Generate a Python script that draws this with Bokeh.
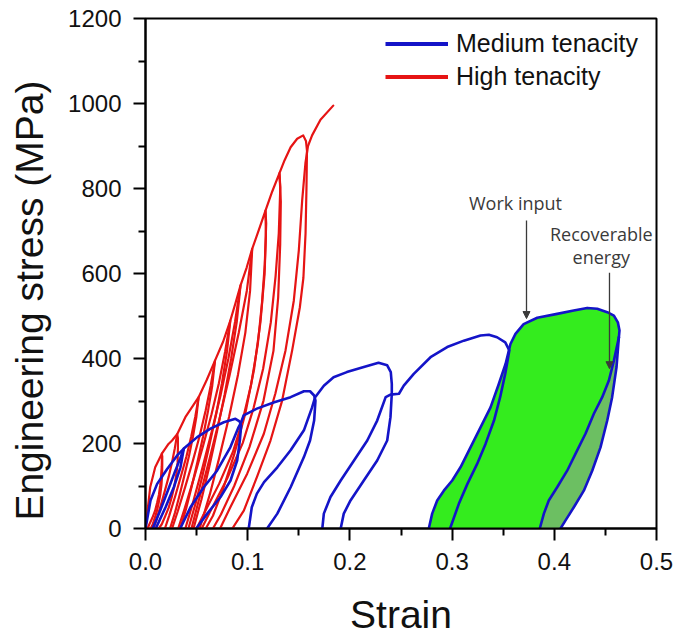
from bokeh.plotting import figure
from bokeh.models import (Range1d, FixedTicker, Legend, LegendItem, Arrow,
                          NormalHead, Label, NumeralTickFormatter)
from bokeh.embed import file_html
from bokeh.resources import INLINE

# ---------------- data ----------------
x_ticks = [0.0, 0.1, 0.2, 0.3, 0.4, 0.5]
x_minor = [0.05, 0.15, 0.25, 0.35, 0.45]
y_ticks = [0, 200, 400, 600, 800, 1000, 1200]
y_minor = [100, 300, 500, 700, 900, 1100]

# High tenacity (red): reload -> envelope -> unload, one list pair per cycle
red_c1_x = [0, 0.0013, 0.0046, 0.0095, 0.016, 0.0164, 0.0164, 0.0162, 0.0156, 0.0144, 0.0127, 0.0109, 0.0089, 0.0068, 0.005]
red_c1_y = [0, 27, 97, 144, 176, 169, 150, 123, 102, 79, 58, 39, 23, 8, 0]
red_c2_x = [0.002, 0.0037, 0.0066, 0.0094, 0.0113, 0.0131, 0.0144, 0.0153, 0.0159, 0.0161, 0.016, 0.0225, 0.026, 0.031, 0.0317, 0.0317, 0.0314, 0.0303, 0.0283, 0.0256, 0.0227, 0.0193, 0.0159, 0.013]
red_c2_y = [0, 9.5, 24.6, 42, 60, 79, 102, 125, 146, 169, 176, 199, 207, 222, 213, 189, 155, 129, 100, 73, 49, 29, 10, 0]
red_c3_x = [0.008, 0.011, 0.0151, 0.019, 0.0227, 0.0259, 0.0287, 0.031, 0.039, 0.052, 0.0498, 0.0464, 0.0425, 0.038, 0.0332, 0.0288, 0.024]
red_c3_y = [0, 22, 56, 89, 122, 155, 189, 222, 262, 309, 263, 216, 170, 124, 77, 37, 0]
red_c4_x = [0.019, 0.0233, 0.0292, 0.0348, 0.0401, 0.0447, 0.0487, 0.052, 0.060, 0.068, 0.0653, 0.0612, 0.0564, 0.051, 0.0452, 0.0398, 0.034]
red_c4_y = [0, 31, 77, 124, 170, 216, 263, 309, 350, 395, 336, 277, 217, 158, 99, 47, 0]
red_c5_x = [0.026, 0.0315, 0.039, 0.0462, 0.0529, 0.0588, 0.0638, 0.068, 0.076, 0.083, 0.0797, 0.0748, 0.0691, 0.0625, 0.0555, 0.049, 0.042]
red_c5_y = [0, 40, 99, 158, 217, 277, 336, 395, 440, 489, 416, 342, 269, 196, 122, 59, 0]
red_c6_x = [0.032, 0.0386, 0.0478, 0.0565, 0.0646, 0.0718, 0.0779, 0.083, 0.088, 0.093, 0.0893, 0.0838, 0.0774, 0.070, 0.0622, 0.0548, 0.047]
red_c6_y = [0, 49, 122, 196, 269, 342, 416, 489, 530, 572, 486, 400, 315, 229, 143, 69, 0]
red_c7_x = [0.039, 0.046, 0.0557, 0.0649, 0.0736, 0.0811, 0.0876, 0.093, 0.099, 0.1044, 0.1023, 0.0977, 0.0905, 0.0818, 0.0720, 0.0628, 0.053]
red_c7_y = [0, 57, 143, 229, 315, 400, 486, 572, 614, 658, 559, 461, 362, 263, 165, 79, 0]
red_c8_x = [0.045, 0.0521, 0.0628, 0.0729, 0.0824, 0.0913, 0.0991, 0.1044, 0.111, 0.1174, 0.1178, 0.1165, 0.1125, 0.1062, 0.0975, 0.0865, 0.0755, 0.066, 0.059]
red_c8_y = [0, 66, 165, 263, 362, 461, 559, 658, 703, 748, 688, 598, 486, 374, 269, 172, 90, 30, 0]
red_c9_x = [0.050, 0.0583, 0.072, 0.0855, 0.095, 0.1032, 0.1099, 0.114, 0.1167, 0.1181, 0.1174, 0.124, 0.1311, 0.1324, 0.1318, 0.1298, 0.1252, 0.1155, 0.1018, 0.0868, 0.0738, 0.066]
red_c9_y = [0, 40, 105, 180, 254, 337, 434, 531, 621, 718, 748, 793, 836, 769, 669, 543, 418, 301, 192, 100, 33, 0]
red_c10_x = [0.055, 0.0644, 0.0798, 0.0951, 0.1058, 0.1151, 0.1226, 0.1273, 0.1304, 0.1319, 0.1311, 0.136, 0.142, 0.1484, 0.1543, 0.157, 0.158, 0.1575, 0.1566, 0.1545, 0.151, 0.1435, 0.1337, 0.1223, 0.109, 0.0962, 0.085]
red_c10_y = [0, 45, 117, 201, 284, 376, 485, 594, 694, 803, 836, 866, 897, 917, 925, 912, 889, 800, 694, 590, 520, 419, 301, 207, 121, 42, 0]
red_c11_x = [0.073, 0.083, 0.0995, 0.1158, 0.127, 0.137, 0.1451, 0.150, 0.1533, 0.1565, 0.159, 0.163, 0.1712, 0.1837]
red_c11_y = [0, 50, 129, 223, 317, 419, 536, 654, 772, 860, 900, 925, 962, 995]

# Medium tenacity (blue): load / unload cycles
blue_c1_x = [0, 0.0049, 0.0114, 0.0212, 0.031, 0.0375, 0.0342, 0.0277, 0.0196, 0.0114, 0.010]
blue_c1_y = [0, 66, 105, 140, 172, 188, 144, 97, 50, 7, 0]
blue_c2_x = [0.007, 0.014, 0.022, 0.029, 0.034, 0.0375, 0.0506, 0.0636, 0.0766, 0.088, 0.092, 0.0936, 0.0923, 0.0897, 0.0832, 0.0734, 0.0604, 0.0506, 0.050]
blue_c2_y = [0, 40, 90, 135, 165, 188, 215, 235, 250, 258, 252, 242, 207, 160, 113, 74, 35, 3, 0]
blue_c3_x = [0.034, 0.044, 0.057, 0.070, 0.083, 0.091, 0.0936, 0.096, 0.109, 0.126, 0.142, 0.155, 0.161, 0.165, 0.1663, 0.165, 0.161, 0.155, 0.142, 0.129, 0.119]
blue_c3_y = [0, 50, 97, 136, 191, 238, 250, 266, 282, 297, 309, 323, 323, 313, 301, 254, 207, 168, 97, 35, 0]
blue_c4_x = [0.101, 0.104, 0.109, 0.116, 0.129, 0.142, 0.155, 0.163, 0.166, 0.1745, 0.184, 0.197, 0.2136, 0.228, 0.2365, 0.240, 0.241, 0.241, 0.2397, 0.2365, 0.2267, 0.2136, 0.2006, 0.194, 0.191]
blue_c4_y = [0, 50, 82, 109, 144, 184, 231, 285, 309, 336, 356, 368, 380, 390, 384, 368, 340, 317, 262, 207, 160, 113, 66, 35, 0]
blue_c5_x = [0.173, 0.1745, 0.181, 0.191, 0.204, 0.217, 0.2267, 0.235, 0.2397, 0.248, 0.2527, 0.2625, 0.2789, 0.2952, 0.3115, 0.3278, 0.336, 0.344, 0.352, 0.356, 0.352, 0.347, 0.341, 0.3327, 0.3245, 0.315, 0.3066, 0.298]
blue_c5_y = [0, 35, 74, 113, 160, 207, 254, 309, 315, 317, 336, 364, 403, 427, 442, 454, 456, 450, 438, 419, 364, 309, 254, 199, 152, 105, 58, 0]
blue_c6_load_x = [0.2772, 0.2805, 0.2854, 0.2919, 0.3001, 0.3082, 0.318, 0.3278, 0.3376, 0.3457, 0.3523, 0.3571, 0.362, 0.370, 0.3833, 0.4028, 0.419, 0.4322, 0.442, 0.4518, 0.4583, 0.4622, 0.4638, 0.4632]
blue_c6_load_y = [0, 35, 66, 89, 113, 144, 191, 238, 285, 340, 387, 434, 458, 481, 496, 505, 513, 519, 517, 509, 501, 485, 466, 450]
blue_c6_unload_a_x = [0.4632, 0.4583, 0.4534, 0.4469, 0.4387, 0.4305, 0.4224, 0.4126, 0.4028, 0.3946, 0.3898, 0.3858]
blue_c6_unload_a_y = [450, 395, 348, 309, 270, 223, 184, 136, 97, 66, 35, 0]
blue_c6_unload_b_x = [0.4632, 0.4609, 0.4566, 0.4518, 0.4452, 0.4371, 0.4289, 0.4191, 0.411, 0.4061]
blue_c6_unload_b_y = [450, 380, 309, 254, 191, 136, 89, 50, 19, 0]

series_names = ["Medium tenacity", "High tenacity"]

# ---------------- styling ----------------
BLUE = "#1414C8"
RED = "#E61414"
GREEN = "#34EC1E"
DARK_GREEN = "#6CBF62"
ANN = "#3a3a3a"
FONT = "Liberation Sans"

p = figure(width=678, height=639, output_backend="svg", toolbar_location=None,
           x_range=Range1d(0, 0.5), y_range=Range1d(0, 1200),
           min_border_left=145, min_border_right=22, min_border_top=18,
           min_border_bottom=111)
p.background_fill_color = "white"
p.border_fill_color = "white"
p.outline_line_color = "black"
p.outline_line_width = 2
p.xgrid.visible = False
p.ygrid.visible = False

p.xaxis.ticker = FixedTicker(ticks=x_ticks, minor_ticks=x_minor)
p.yaxis.ticker = FixedTicker(ticks=y_ticks, minor_ticks=y_minor)
p.xaxis.formatter = NumeralTickFormatter(format="0.0")
p.yaxis.formatter = NumeralTickFormatter(format="0")
p.xaxis.axis_label = "Strain"
# trailing no-break spaces shift the centred title down, as in the reference
p.yaxis.axis_label = "Engineering stress (MPa)" + "\u00a0" * 5
for ax in (p.xaxis[0], p.yaxis[0]):
    ax.axis_line_color = "black"
    ax.axis_line_width = 2
    ax.major_tick_line_color = "black"
    ax.minor_tick_line_color = "black"
    ax.major_tick_line_width = 2
    ax.minor_tick_line_width = 2
    ax.major_tick_in = 0
    ax.major_tick_out = 12
    ax.minor_tick_in = 0
    ax.minor_tick_out = 7
    ax.major_label_text_font = FONT
    ax.major_label_text_font_size = "24px"
    ax.major_label_text_color = "#111111"
    ax.major_label_standoff = 12
    ax.axis_label_text_font = FONT
    ax.axis_label_text_font_size = "39px"
    ax.axis_label_text_font_style = "normal"
    ax.axis_label_text_color = "#111111"
p.xaxis[0].axis_label_standoff = 20
p.yaxis[0].axis_label_standoff = 14

# red curves
red_xs = [red_c1_x, red_c2_x, red_c3_x, red_c4_x, red_c5_x, red_c6_x,
          red_c7_x, red_c8_x, red_c9_x, red_c10_x, red_c11_x]
red_ys = [red_c1_y, red_c2_y, red_c3_y, red_c4_y, red_c5_y, red_c6_y,
          red_c7_y, red_c8_y, red_c9_y, red_c10_y, red_c11_y]
p.multi_line(xs=red_xs, ys=red_ys, line_color=RED, line_width=2.2,
             line_join="round", line_cap="round")

# green areas (work input / recoverable energy)
green_x = blue_c6_load_x + blue_c6_unload_b_x[1:]
green_y = blue_c6_load_y + blue_c6_unload_b_y[1:]
p.patch(x=green_x, y=green_y, fill_color=GREEN, line_alpha=0)
dark_x = blue_c6_unload_a_x + blue_c6_unload_b_x[::-1]
dark_y = blue_c6_unload_a_y + blue_c6_unload_b_y[::-1]
p.patch(x=dark_x, y=dark_y, fill_color=DARK_GREEN, line_alpha=0)

# blue curves
blue_xs = [blue_c1_x, blue_c2_x, blue_c3_x, blue_c4_x, blue_c5_x,
           blue_c6_load_x, blue_c6_unload_a_x, blue_c6_unload_b_x]
blue_ys = [blue_c1_y, blue_c2_y, blue_c3_y, blue_c4_y, blue_c5_y,
           blue_c6_load_y, blue_c6_unload_a_y, blue_c6_unload_b_y]
p.multi_line(xs=blue_xs, ys=blue_ys, line_color=BLUE, line_width=2.6,
             line_join="round", line_cap="round")

# legend sample lines (kept off-range; only their legend glyphs show)
leg_blue = p.line(x=[-1.0, -0.9], y=[-100, -100], line_color=BLUE, line_width=4)
leg_red = p.line(x=[-1.0, -0.9], y=[-100, -100], line_color=RED, line_width=4)
legend = Legend(items=[LegendItem(label=series_names[0], renderers=[leg_blue]),
                       LegendItem(label=series_names[1], renderers=[leg_red])],
                location=(240, 437), glyph_width=63, glyph_height=29,
                label_height=29, label_standoff=8, spacing=4, padding=0,
                margin=0, border_line_alpha=0, background_fill_alpha=0,
                label_text_font=FONT, label_text_font_size="25px",
                label_text_color="#111111")
p.add_layout(legend)

# annotations
p.add_layout(Arrow(end=NormalHead(size=7, fill_color=ANN, line_color=ANN),
                   x_start=0.3728, y_start=725, x_end=0.3728, y_end=494,
                   line_color=ANN, line_width=1.3))
p.add_layout(Arrow(end=NormalHead(size=7, fill_color=ANN, line_color=ANN),
                   x_start=0.454, y_start=602, x_end=0.454, y_end=376,
                   line_color=ANN, line_width=1.3))
for txt, xx, yy in [("Work input", 0.362, 765), ("Recoverable", 0.446, 694),
                    ("energy", 0.446, 638)]:
    p.add_layout(Label(x=xx, y=yy, text=txt, text_align="center",
                       text_baseline="middle", text_font="Open Sans",
                       text_font_size="18px", text_color=ANN))

open("out.html", "w").write(file_html(p, INLINE))
